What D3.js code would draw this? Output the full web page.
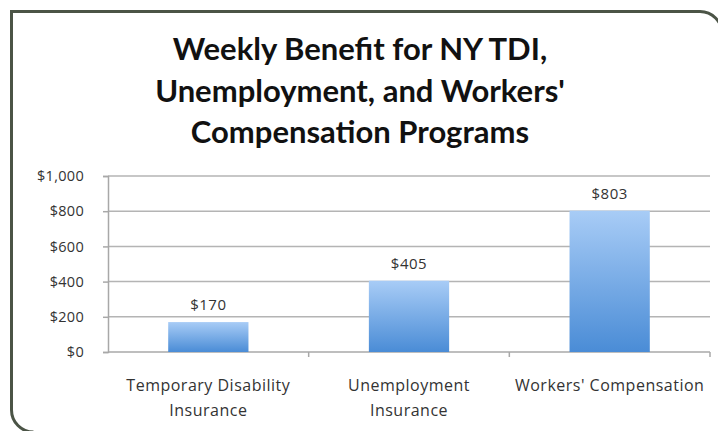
<!DOCTYPE html>
<html>
<head>
<meta charset="utf-8">
<script src="https://cdn.jsdelivr.net/npm/d3@7"></script>
<style>
  body { margin: 0; background: #fff; }
  svg { display: block; }
  text { font-family: "Open Sans", Lato, sans-serif; }
  .title { font-family: Lato, "Open Sans", sans-serif; }
</style>
</head>
<body>
<div id="chart"></div>
<script>
// Chart data
const titleLines = ["Weekly Benefit for NY TDI,", "Unemployment, and Workers'", "Compensation Programs"];
const categories = ["Temporary Disability Insurance", "Unemployment Insurance", "Workers' Compensation"];
const categoryLines = [["Temporary Disability", "Insurance"], ["Unemployment", "Insurance"], ["Workers' Compensation"]];
const benefits = [170, 405, 803];
const yTicks = [0, 200, 400, 600, 800, 1000];

const width = 718;
const height = 431;
const margin = {top: 176, right: 8, bottom: 79, left: 108};

const svg = d3.select("#chart").append("svg")
  .attr("width", width)
  .attr("height", height);

// Bar gradient
const grad = svg.append("defs").append("linearGradient")
  .attr("id", "barGrad")
  .attr("x1", 0).attr("y1", 0).attr("x2", 0).attr("y2", 1);
grad.append("stop").attr("offset", "0%").attr("stop-color", "#a8ccf6");
grad.append("stop").attr("offset", "100%").attr("stop-color", "#4a8cd6");

// Frame around the chart
svg.append("path")
  .attr("d", "M11.5,410 L11.5,11.5 L700,11.5 A22,22 0 0 1 722,33.5 M11.5,410 A22,22 0 0 0 33.5,432")
  .attr("fill", "none")
  .attr("stroke", "#4b5446")
  .attr("stroke-width", 3);

// Title
svg.append("text")
  .attr("class", "title")
  .attr("text-anchor", "middle")
  .attr("font-size", 31)
  .attr("font-weight", "bold")
  .attr("fill", "#111")
  .selectAll("tspan")
  .data(titleLines)
  .join("tspan")
    .attr("x", 360)
    .attr("y", (d, i) => 60 + i * 41.5)
    .text(d => d);

const x = d3.scaleBand()
  .domain(categories)
  .range([margin.left, width - margin.right])
  .paddingInner(0.6)
  .paddingOuter(0.3);

const y = d3.scaleLinear()
  .domain([0, 1000])
  .range([height - margin.bottom, margin.top]);

const plotLeft = margin.left;
const plotRight = width - margin.right;

// Gridlines
svg.append("g")
  .selectAll("line")
  .data(yTicks.slice(1))
  .join("line")
    .attr("x1", plotLeft).attr("x2", plotRight)
    .attr("y1", d => y(d)).attr("y2", d => y(d))
    .attr("stroke", "#b4b4b4")
    .attr("stroke-width", 1.5);

// Y axis
const yAxis = svg.append("g")
  .attr("transform", `translate(${plotLeft},0)`)
  .call(d3.axisLeft(y).tickValues(yTicks).tickSize(5).tickPadding(19)
    .tickFormat(d => "$" + d3.format(",")(d)));
yAxis.select(".domain").attr("stroke", "#a8a8a8").attr("stroke-width", 1.5);
yAxis.selectAll(".tick line").attr("stroke", "#a8a8a8").attr("stroke-width", 1.5);
yAxis.selectAll(".tick text")
  .attr("font-size", 14.5)
  .attr("fill", "#333")
  .style("font-family", "'Open Sans', sans-serif")
  .style("letter-spacing", "0.3px");

// X axis line and boundary ticks
const boundaries = d3.range(categories.length + 1).map(i => plotLeft + i * (plotRight - plotLeft) / categories.length);
svg.append("line")
  .attr("x1", plotLeft).attr("x2", plotRight)
  .attr("y1", y(0)).attr("y2", y(0))
  .attr("stroke", "#a8a8a8").attr("stroke-width", 1.5);
svg.append("g")
  .selectAll("line")
  .data(boundaries.slice(1))
  .join("line")
    .attr("x1", d => d).attr("x2", d => d)
    .attr("y1", y(0)).attr("y2", y(0) + 5)
    .attr("stroke", "#a8a8a8").attr("stroke-width", 1.5);

// Bars
svg.append("g")
  .selectAll("rect")
  .data(benefits)
  .join("rect")
    .attr("x", (d, i) => x(categories[i]))
    .attr("y", d => y(d))
    .attr("width", x.bandwidth())
    .attr("height", d => y(0) - y(d))
    .attr("fill", "url(#barGrad)");

// Value labels
svg.append("g")
  .selectAll("text")
  .data(benefits)
  .join("text")
    .attr("x", (d, i) => x(categories[i]) + x.bandwidth() / 2)
    .attr("y", d => y(d) - 12)
    .attr("text-anchor", "middle")
    .attr("font-size", 15)
    .attr("fill", "#333")
    .style("letter-spacing", "0.5px")
    .text(d => "$" + d);

// Category labels
svg.append("g")
  .selectAll("text")
  .data(categoryLines)
  .join("text")
    .attr("text-anchor", "middle")
    .attr("font-size", 16)
    .attr("fill", "#333")
    .style("letter-spacing", "0.5px")
    .each(function(lines, i) {
      d3.select(this).selectAll("tspan")
        .data(lines)
        .join("tspan")
          .attr("x", x(categories[i]) + x.bandwidth() / 2)
          .attr("y", (d, j) => 391 + j * 24.5)
          .text(d => d);
    });
</script>
</body>
</html>
